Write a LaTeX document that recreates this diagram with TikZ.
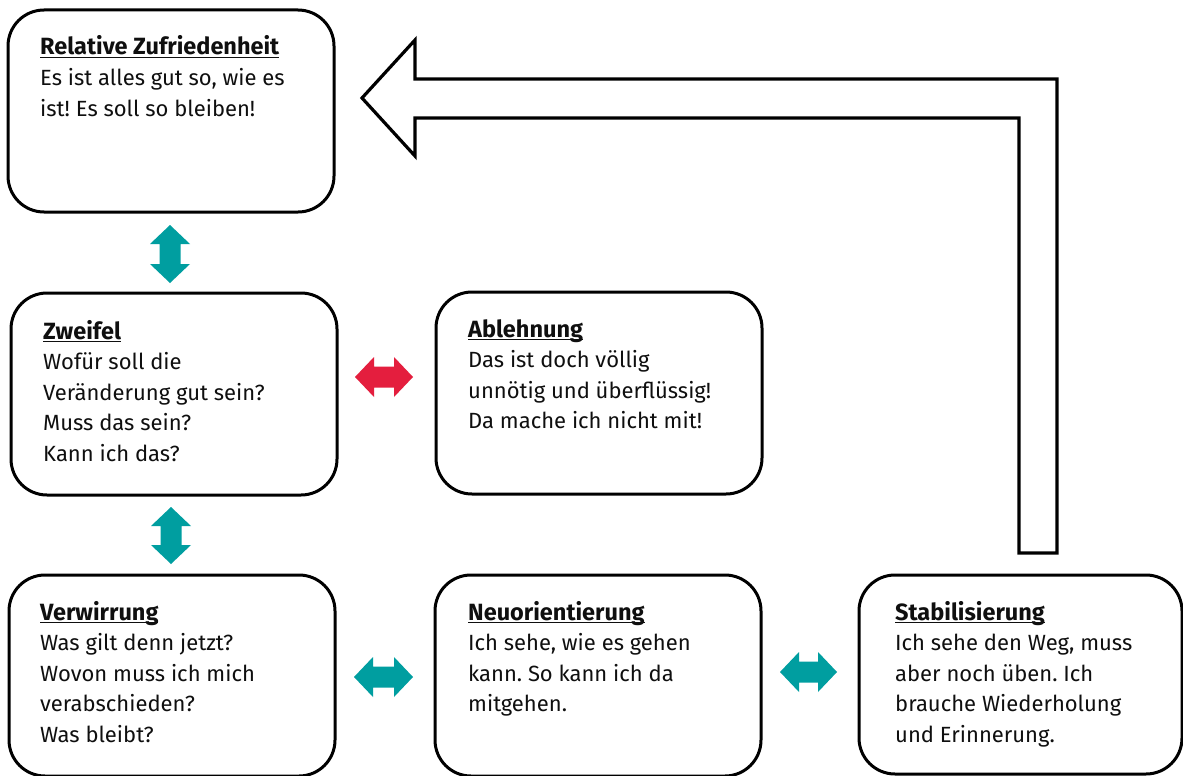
\documentclass[tikz,border=0pt]{standalone}
\usepackage{fontspec}
\setmainfont{Fira Sans}
\usetikzlibrary{calc}

\definecolor{arrowteal}{RGB}{0,158,160}
\definecolor{arrowred}{RGB}{228,30,62}
\definecolor{ink}{RGB}{15,15,15}

% bold heading with an underline running through descenders
\newcommand\boxtitle[1]{\leavevmode\setbox0\hbox{\fontsize{23.5}{30.6}\bfseries #1}\rlap{\rule[-3.2pt]{\wd0}{1.5pt}}\box0}
% text block, first line's baseline is the reference point
\newcommand\boxtext[1]{\parbox[t]{330pt}{\raggedright\frenchspacing\fontsize{22}{30.6}\selectfont #1}}

% double block arrow between two named coordinates
\newcommand\blockarrow[3][]{%
  \fill[#1] let \p1=(#2), \p2=(#3),
      \n1={atan2(\y2-\y1,\x2-\x1)}, \n2={veclen(\x2-\x1,\y2-\y1)} in
    [shift={(\p1)}, rotate=\n1, x=1pt, y=1pt]
    (0,0) -- (19,20) -- (19,10.5) -- ({\n2-19},10.5) -- ({\n2-19},20) -- ({\n2},0)
    -- ({\n2-19},-20) -- ({\n2-19},-10.5) -- (19,-10.5) -- (19,-20) -- cycle;
}

\tikzset{
  stage/.style={draw=black, line width=3pt, rounded corners=36pt, fill=white,
    inner sep=0pt, outer sep=0pt, anchor=north west,
    minimum width=326pt, minimum height=202pt},
  stagetext/.style={anchor=base west, inner sep=0pt, text=ink},
  bigarrow/.style={draw=black, line width=3.2pt, fill=white, line join=miter},
}

\begin{document}
\begin{tikzpicture}[x=1pt, y=-1pt]
\useasboundingbox (0,0) rectangle (1183,776);
\clip (0,0) rectangle (1183,776);
\fill[white] (0,0) rectangle (1183,776);

% return arrow from the last stage back to the first
\draw[bigarrow] (362,98) -- (415,40) -- (415,79) -- (1057,79) -- (1057,553)
  -- (1019,553) -- (1019,118) -- (415,118) -- (415,156) -- cycle;

% stages
\node[stage] (rz) at (8,10) {};
\node[stage] (zw) at (11,293) {};
\node[stage] (ab) at (436,292) {};
\node[stage, minimum height=201pt] (vw) at (9,575) {};
\node[stage, minimum height=201pt] (no) at (435,575) {};
\node[stage, minimum width=323pt, minimum height=199pt] (st) at (859,575) {};

\node[stagetext] (rz-t) at ($(rz.north west)+(32,45)$) {\boxtext{\boxtitle{Relative Zufriedenheit}\\
  Es ist alles gut so, wie es\\ist! Es soll so bleiben!}};
\node[stagetext] (zw-t) at ($(zw.north west)+(32,46)$) {\boxtext{\boxtitle{Zweifel}\\
  Wofür soll die\\Veränderung gut sein?\\Muss das sein?\\Kann ich das?}};
\node[stagetext] (ab-t) at ($(ab.north west)+(32,45)$) {\boxtext{\boxtitle{Ablehnung}\\
  Das ist doch völlig\\unnötig und überflüssig!\\Da mache ich nicht mit!}};
\node[stagetext] (vw-t) at ($(vw.north west)+(31,45)$) {\boxtext{\boxtitle{Verwirrung}\\
  Was gilt denn jetzt?\\Wovon muss ich mich\\verabschieden?\\Was bleibt?}};
\node[stagetext] (no-t) at ($(no.north west)+(33,45)$) {\boxtext{\boxtitle{Neuorientierung}\\
  Ich sehe, wie es gehen\\kann. So kann ich da\\mitgehen.}};
\node[stagetext] (st-t) at ($(st.north west)+(36,45)$) {\boxtext{\boxtitle{Stabilisierung}\\
  Ich sehe den Weg, muss\\aber noch üben. Ich\\brauche Wiederholung\\und Erinnerung.}};

% connector end points
\coordinate (v1a) at (170,225);
\coordinate (v1b) at (170,283);
\coordinate (v2a) at (171,507);
\coordinate (v2b) at (171,564);
\coordinate (ra) at (355,377);
\coordinate (rb) at (413,377);
\coordinate (h1a) at (354,677);
\coordinate (h1b) at (413,677);
\coordinate (h2a) at (780,672);
\coordinate (h2b) at (837,672);

\blockarrow[arrowteal]{v1a}{v1b}
\blockarrow[arrowteal]{v2a}{v2b}
\blockarrow[arrowred]{ra}{rb}
\blockarrow[arrowteal]{h1a}{h1b}
\blockarrow[arrowteal]{h2a}{h2b}
\end{tikzpicture}
\end{document}
